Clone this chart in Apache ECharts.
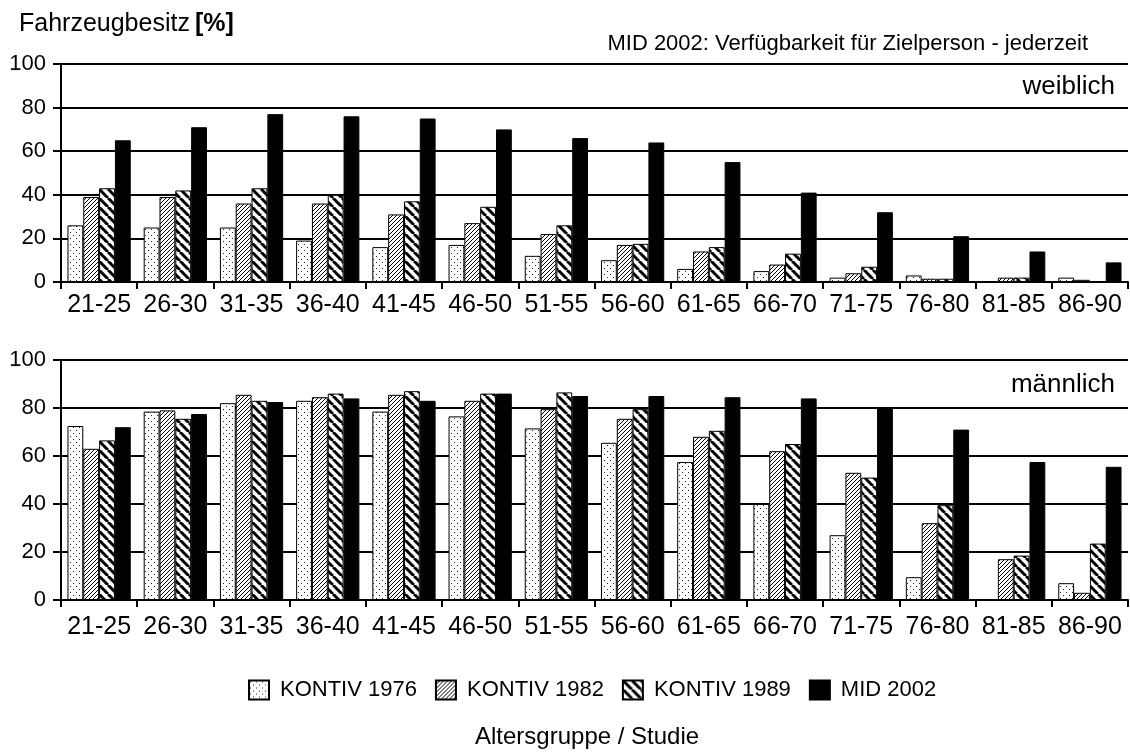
<!DOCTYPE html>
<html>
<head>
<meta charset="utf-8">
<title>Fahrzeugbesitz</title>
<script src="https://cdn.jsdelivr.net/npm/echarts@6/dist/echarts.min.js"></script>
<style>
  html, body { margin: 0; padding: 0; background: #fff; }
  #chart { width: 1130px; height: 754px; }
</style>
</head>
<body>
<div id="chart"></div>
<script>
const categories = ['21-25', '26-30', '31-35', '36-40', '41-45', '46-50', '51-55',
  '56-60', '61-65', '66-70', '71-75', '76-80', '81-85', '86-90'];
const seriesNames = ['KONTIV 1976', 'KONTIV 1982', 'KONTIV 1989', 'MID 2002'];
const yTicks = { min: 0, max: 100, interval: 20 };

// weiblich
const female1976 = [26, 25, 25, 19, 16, 17, 12, 10, 6, 5, 2, 3, 0, 2];
const female1982 = [39, 39, 36, 36, 31, 27, 22, 17, 14, 8, 4, 1.5, 2, 1];
const female1989 = [43, 42, 43, 40, 37, 34.5, 26, 17.5, 16, 13, 7, 1.5, 2, 0];
const female2002 = [65, 71, 77, 76, 75, 70, 66, 64, 55, 41, 32, 21, 14, 9];

// männlich
const male1976 = [72.5, 78.5, 82, 83, 78.5, 76.5, 71.5, 65.5, 57.5, 40, 27, 9.5, 0, 7];
const male1982 = [63, 79, 85.5, 84.5, 85.5, 83, 79.5, 75.5, 68, 62, 53, 32, 17, 3];
const male1989 = [66.5, 75.5, 83, 86, 87, 86, 86.5, 79.5, 70.5, 65, 51, 39.5, 18.5, 23.5];
const male2002 = [72, 77.5, 82.5, 84, 83, 86, 85, 85, 84.5, 84, 80, 71, 57.5, 55.5];

const FONT = "'Liberation Sans', Arial, sans-serif";

// fill patterns for the bars
function makeTile(size, draw) {
  const c = document.createElement('canvas');
  c.width = size;
  c.height = size;
  const ctx = c.getContext('2d');
  ctx.fillStyle = '#fff';
  ctx.fillRect(0, 0, size, size);
  draw(ctx, size);
  return c;
}

const dots = makeTile(6, (ctx) => {
  ctx.fillStyle = '#222';
  ctx.fillRect(1, 1, 1, 1);
  ctx.fillRect(4, 4, 1, 1);
});

const thinHatch = makeTile(4, (ctx, s) => {
  ctx.strokeStyle = '#000';
  ctx.lineWidth = 1;
  for (const k of [-s, 0, s]) {
    ctx.beginPath();
    ctx.moveTo(k, s);
    ctx.lineTo(k + s, 0);
    ctx.stroke();
  }
});

const thickHatch = makeTile(9, (ctx, s) => {
  ctx.strokeStyle = '#000';
  ctx.lineWidth = 3;
  for (const k of [-s, 0, s]) {
    ctx.beginPath();
    ctx.moveTo(k, 0);
    ctx.lineTo(k + s, s);
    ctx.stroke();
  }
});

const fills = [
  { image: dots, repeat: 'repeat' },
  { image: thinHatch, repeat: 'repeat' },
  { image: thickHatch, repeat: 'repeat' },
  '#000'
];

const makeXAxis = (gridIndex, margin) => ({
  type: 'category',
  gridIndex: gridIndex,
  data: categories,
  axisLine: { lineStyle: { color: '#000', width: 2 } },
  axisTick: { show: true, length: 7, lineStyle: { color: '#000', width: 2 } },
  axisLabel: { interval: 0, color: '#000', fontSize: 25, fontFamily: FONT, margin: margin }
});

const makeYAxis = (gridIndex) => ({
  type: 'value',
  gridIndex: gridIndex,
  min: yTicks.min,
  max: yTicks.max,
  interval: yTicks.interval,
  axisLine: { show: true, lineStyle: { color: '#000', width: 2 } },
  axisTick: { show: true, length: 8, lineStyle: { color: '#000', width: 2 } },
  axisLabel: { color: '#000', fontSize: 22, fontFamily: FONT, margin: 15 },
  splitLine: { show: true, lineStyle: { color: '#000', width: 2 } }
});

const makeSeries = (values, i, gridIndex) => ({
  name: seriesNames[i],
  type: 'bar',
  xAxisIndex: gridIndex,
  yAxisIndex: gridIndex,
  data: values,
  barGap: '0%',
  barCategoryGap: '17%',
  itemStyle: { color: fills[i], borderColor: '#000', borderWidth: 1 },
  emphasis: { disabled: true }
});

const chart = echarts.init(document.getElementById('chart'), null, { renderer: 'canvas' });

const option = {
  animation: false,
  backgroundColor: '#fff',
  textStyle: { fontFamily: FONT, color: '#000' },
  title: {
    left: 14,
    top: 7,
    text: '{n|Fahrzeugbesitz} {b|[%]}',
    textStyle: {
      fontWeight: 'normal',
      rich: {
        n: { fontSize: 25, fontFamily: FONT, color: '#000', fontWeight: 'normal' },
        b: { fontSize: 25, fontFamily: FONT, color: '#000', fontWeight: 'bold' }
      }
    }
  },
  legend: {
    left: 243,
    top: 674,
    icon: 'rect',
    itemWidth: 20,
    itemHeight: 19,
    itemGap: 18,
    data: seriesNames,
    textStyle: { fontSize: 22, fontFamily: FONT, color: '#000', padding: [0, 0, 0, 6] }
  },
  grid: [
    { left: 61, right: 2, top: 64, height: 218 },
    { left: 61, right: 2, top: 360, height: 240 }
  ],
  xAxis: [makeXAxis(0, 11), makeXAxis(1, 15)],
  yAxis: [makeYAxis(0), makeYAxis(1)],
  series: [
    makeSeries(female1976, 0, 0),
    makeSeries(female1982, 1, 0),
    makeSeries(female1989, 2, 0),
    makeSeries(female2002, 3, 0),
    makeSeries(male1976, 0, 1),
    makeSeries(male1982, 1, 1),
    makeSeries(male1989, 2, 1),
    makeSeries(male2002, 3, 1)
  ],
  graphic: [
    {
      type: 'text', right: 42, top: 33,
      style: { text: 'MID 2002: Verfügbarkeit für Zielperson - jederzeit', fontSize: 22, fontFamily: FONT, fill: '#000' }
    },
    {
      type: 'text', right: 15, top: 74,
      style: { text: 'weiblich', fontSize: 26, fontFamily: FONT, fill: '#000' }
    },
    {
      type: 'text', right: 15, top: 372,
      style: { text: 'männlich', fontSize: 26, fontFamily: FONT, fill: '#000' }
    },
    {
      type: 'text', left: 475, top: 725,
      style: { text: 'Altersgruppe / Studie', fontSize: 24, fontFamily: FONT, fill: '#000' }
    }
  ]
};

chart.setOption(option);
window.addEventListener('resize', () => chart.resize());
</script>
</body>
</html>
